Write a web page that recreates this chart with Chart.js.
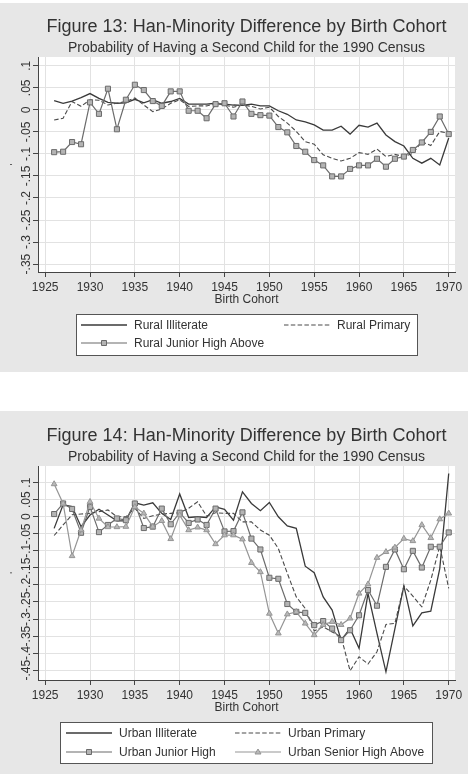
<!DOCTYPE html>
<html>
<head>
<meta charset="utf-8">
<script src="https://cdn.jsdelivr.net/npm/chart.js@4.4.1/dist/chart.umd.min.js"></script>
<style>
  body { margin: 0; background: #fff; }
  canvas { position: absolute; left: 0; }
  #fig13 { top: 3px; }
  #fig14 { top: 411px; }
</style>
</head>
<body>
<canvas id="fig13" width="468" height="369"></canvas>
<canvas id="fig14" width="468" height="363"></canvas>
<script>
// Birth cohorts (x axis)
const years = [1926, 1927, 1928, 1929, 1930, 1931, 1932, 1933, 1934, 1935,
               1936, 1937, 1938, 1939, 1940, 1941, 1942, 1943, 1944, 1945,
               1946, 1947, 1948, 1949, 1950, 1951, 1952, 1953, 1954, 1955,
               1956, 1957, 1958, 1959, 1960, 1961, 1962, 1963, 1964, 1965,
               1966, 1967, 1968, 1969, 1970];

const xTickValues = [1925, 1930, 1935, 1940, 1945, 1950, 1955, 1960, 1965, 1970];
const xTickLabels = ['1925', '1930', '1935', '1940', '1945', '1950', '1955', '1960', '1965', '1970'];

// Figure 13 - rural
const ruralIlliterate = [0.021, 0.015, 0.020, 0.028, 0.037, 0.026, 0.017, 0.015, 0.016, 0.024,
                         0.016, 0.023, 0.015, 0.019, 0.026, 0.013, 0.013, 0.013, 0.015, 0.013,
                         0.011, 0.010, 0.013, 0.009, 0.009, -0.002, -0.010, -0.023, -0.027, -0.034,
                         -0.046, -0.046, -0.037, -0.055, -0.035, -0.039, -0.030, -0.057, -0.072, -0.082,
                         -0.110, -0.121, -0.110, -0.125, -0.064];
const ruralPrimary = [-0.023, -0.019, 0.019, 0.008, 0.023, 0.022, 0.011, 0.015, 0.019, 0.027,
                      0.011, -0.004, 0.002, 0.015, 0.023, 0.008, 0.009, 0.009, 0.015, 0.011,
                      0.006, 0.011, 0.008, 0.002, 0.006, -0.015, -0.030, -0.049, -0.072, -0.078,
                      -0.102, -0.110, -0.116, -0.110, -0.097, -0.101, -0.089, -0.106, -0.101, -0.106,
                      -0.099, -0.072, -0.081, -0.049, -0.053];
const ruralJuniorHigh = [-0.096, -0.095, -0.073, -0.078, 0.017, -0.009, 0.048, -0.044, 0.023, 0.057,
                         0.045, 0.020, 0.009, 0.042, 0.042, -0.002, -0.002, -0.019, 0.013, 0.015,
                         -0.015, 0.019, -0.009, -0.012, -0.013, -0.039, -0.051, -0.082, -0.095, -0.114,
                         -0.126, -0.151, -0.151, -0.134, -0.126, -0.126, -0.111, -0.129, -0.111, -0.106,
                         -0.091, -0.074, -0.050, -0.015, -0.055];

const y13TickValues = [0.1, 0.05, 0, -0.05, -0.1, -0.15, -0.2, -0.25, -0.3, -0.35];
const y13TickLabels = ['.1', '.05', '0', '-.05', '-.1', '-.15', '-.2', '-.25', '-.3', '-.35'];

// Figure 14 - urban
const urbanIlliterate = [-0.034, 0.035, 0.030, -0.029, 0.005, 0.022, 0.005, -0.012, -0.012, 0.041,
                         0.034, 0.041, 0.010, -0.008, 0.067, -0.002, 0.000, -0.002, 0.029, 0.022,
                         -0.010, 0.073, 0.039, 0.018, 0.042, 0.000, -0.027, -0.034, -0.145, -0.164,
                         -0.235, -0.274, -0.362, -0.328, -0.386, -0.225, -0.342, -0.455, -0.328, -0.203,
                         -0.320, -0.282, -0.277, -0.152, 0.127];
const urbanPrimary = [-0.055, -0.024, 0.006, 0.008, 0.010, 0.015, 0.020, 0.000, 0.000, 0.025,
                      -0.005, 0.003, 0.008, 0.010, 0.012, 0.025, 0.044, 0.002, 0.012, 0.010,
                      0.010, -0.015, -0.015, -0.039, -0.054, -0.093, -0.166, -0.235, -0.269, -0.335,
                      -0.323, -0.338, -0.352, -0.452, -0.411, -0.432, -0.396, -0.316, -0.313, -0.203,
                      -0.233, -0.264, -0.186, -0.086, -0.210];
const urbanJuniorHigh = [0.008, 0.039, 0.023, -0.047, 0.029, -0.045, -0.024, -0.005, -0.010, 0.039,
                         -0.033, -0.029, 0.024, -0.022, 0.012, -0.018, -0.008, -0.024, 0.024, -0.043,
                         -0.042, 0.013, -0.064, -0.096, -0.179, -0.182, -0.256, -0.279, -0.282, -0.318,
                         -0.306, -0.328, -0.362, -0.333, -0.289, -0.215, -0.261, -0.147, -0.096, -0.154,
                         -0.100, -0.149, -0.088, -0.088, -0.046];
const urbanSeniorHigh = [0.096, 0.039, -0.115, -0.039, 0.044, -0.005, -0.030, -0.030, -0.029, 0.029,
                         0.010, -0.029, -0.012, -0.065, 0.005, -0.039, -0.031, -0.039, -0.080, -0.054,
                         -0.054, -0.066, -0.135, -0.162, -0.284, -0.342, -0.286, -0.279, -0.313, -0.347,
                         -0.317, -0.308, -0.317, -0.298, -0.225, -0.198, -0.120, -0.103, -0.090, -0.064,
                         -0.071, -0.024, -0.062, -0.007, 0.010];

const y14TickValues = [0.1, 0.05, 0, -0.05, -0.1, -0.15, -0.2, -0.25, -0.3, -0.35, -0.4, -0.45];
const y14TickLabels = ['.1', '.05', '0', '-.05', '-.1', '-.15', '-.2', '-.25', '-.3', '-.35', '-.4', '-.45'];

const FONT = '"Liberation Sans", Arial, sans-serif';
const TEXT = '#333333';

// Series styles (Stata mono look)
const STYLE = {
    illiterate: { borderColor: '#3a3a3a', borderWidth: 1.3, pointRadius: 0 },
    primary:    { borderColor: '#4a4a4a', borderWidth: 1.1, borderDash: [4.5, 2.3], pointRadius: 0 },
    junior:     { borderColor: '#6b6b6b', borderWidth: 1.2, pointStyle: 'rect', pointRadius: 3.6,
                  pointBackgroundColor: '#b4b4b4', pointBorderColor: '#6b6b6b', pointBorderWidth: 1 },
    senior:     { borderColor: '#959595', borderWidth: 1.2, pointStyle: 'triangle', pointRadius: 3.3,
                  pointBackgroundColor: '#b8b8b8', pointBorderColor: '#959595', pointBorderWidth: 1 }
};

function toPoints(values)
{
    return years.map((yr, i) => ({ x: yr, y: values[i] }));
}

/**
 * Gray panel, white plot region, titles and Stata-style legend box
 */
const stataPanel = {
    id: 'stataPanel',
    beforeDraw(chart) {
        const { ctx, chartArea: a } = chart;
        ctx.save();
        ctx.fillStyle = '#e7e7e7';
        ctx.fillRect(0, 0, chart.width, chart.height);
        ctx.fillStyle = '#ffffff';
        ctx.fillRect(a.left, a.top, a.right - a.left, a.bottom - a.top);
        ctx.restore();
    },
    afterDraw(chart, args, opts) {
        const { ctx, chartArea: a } = chart;
        const cx = (a.left + a.right) / 2;
        ctx.save();
        ctx.fillStyle = TEXT;
        ctx.textAlign = 'center';
        ctx.textBaseline = 'middle';

        // Titles
        ctx.font = '18px ' + FONT;
        ctx.fillText(opts.title, cx, opts.titleY);
        ctx.font = '14px ' + FONT;
        ctx.fillText(opts.subtitle, cx, opts.subtitleY);

        // Tiny y axis title mark
        ctx.save();
        ctx.translate(14, (a.top + a.bottom) / 2);
        ctx.rotate(-Math.PI / 2);
        ctx.font = '9px ' + FONT;
        ctx.fillText("'", 0, 0);
        ctx.restore();

        // Legend box
        const lg = opts.legend;
        ctx.fillStyle = '#ffffff';
        ctx.fillRect(lg.x, lg.y, lg.w, lg.h);
        ctx.strokeStyle = '#555555';
        ctx.lineWidth = 1;
        ctx.strokeRect(lg.x + 0.5, lg.y + 0.5, lg.w, lg.h);

        chart.data.datasets.forEach((ds, i) => {
            const x0 = lg.cols[i % 2];
            const y0 = lg.rows[Math.floor(i / 2)];
            ctx.save();
            ctx.strokeStyle = ds.borderColor;
            ctx.lineWidth = ds.borderWidth;
            ctx.setLineDash(ds.borderDash || []);
            ctx.beginPath();
            ctx.moveTo(x0, y0);
            ctx.lineTo(x0 + lg.lineLen, y0);
            ctx.stroke();
            ctx.setLineDash([]);
            if (ds.pointRadius > 0) {
                const mx = x0 + lg.lineLen / 2;
                ctx.fillStyle = ds.pointBackgroundColor;
                ctx.strokeStyle = ds.pointBorderColor;
                ctx.lineWidth = 1;
                ctx.beginPath();
                if (ds.pointStyle === 'rect') {
                    ctx.rect(mx - 2.5, y0 - 2.5, 5, 5);
                } else {
                    ctx.moveTo(mx, y0 - 3);
                    ctx.lineTo(mx + 3, y0 + 2);
                    ctx.lineTo(mx - 3, y0 + 2);
                    ctx.closePath();
                }
                ctx.fill();
                ctx.stroke();
            }
            ctx.restore();

            ctx.fillStyle = TEXT;
            ctx.textAlign = 'left';
            ctx.font = '12px ' + FONT;
            ctx.fillText(ds.label, x0 + lg.lineLen + 7, y0 + 0.5);
        });
        ctx.restore();
    }
};

function makeChart(id, datasets, yMin, yMax, yTickValues, yTickLabels, panel, padBottom)
{
    const ctx = document.getElementById(id).getContext('2d');
    return new Chart(ctx, {
        type: 'line',
        data: { datasets: datasets },
        plugins: [stataPanel],
        options: {
            responsive: false,
            animation: false,
            layout: { padding: { top: panel.top, right: 13, bottom: padBottom, left: 0 } },
            elements: { line: { tension: 0 } },
            plugins: {
                legend: { display: false },
                tooltip: { enabled: false },
                stataPanel: panel
            },
            scales: {
                x: {
                    type: 'linear',
                    min: 1924.2,
                    max: 1970.7,
                    afterBuildTicks: (scale) => { scale.ticks = xTickValues.map(v => ({ value: v })); },
                    afterFit: (scale) => { scale.height = 35; },
                    ticks: {
                        autoSkip: false,
                        maxRotation: 0,
                        padding: 3,
                        color: TEXT,
                        font: { size: 12, family: FONT },
                        callback: (value, index) => xTickLabels[index]
                    },
                    grid: { color: '#e2e2e2', lineWidth: 1, tickLength: 5, tickColor: '#444444' },
                    border: { color: '#444444', width: 1 },
                    title: {
                        display: true,
                        text: 'Birth Cohort',
                        color: TEXT,
                        font: { size: 12, family: FONT },
                        padding: 0
                    }
                },
                y: {
                    type: 'linear',
                    min: yMin,
                    max: yMax,
                    afterBuildTicks: (scale) => { scale.ticks = yTickValues.map(v => ({ value: v })); },
                    afterFit: (scale) => { scale.width = 38; },
                    ticks: {
                        autoSkip: false,
                        minRotation: 90,
                        maxRotation: 90,
                        crossAlign: 'center',
                        padding: -4,
                        color: TEXT,
                        font: { size: 12, family: FONT },
                        callback: (value, index) => yTickLabels[index]
                    },
                    grid: { color: '#e2e2e2', lineWidth: 1, tickLength: 5, tickColor: '#444444' },
                    border: { color: '#444444', width: 1 }
                }
            }
        }
    });
}

// Figure 13
makeChart('fig13', [
    Object.assign({ label: 'Rural Illiterate', data: toPoints(ruralIlliterate), order: 3 }, STYLE.illiterate),
    Object.assign({ label: 'Rural Primary', data: toPoints(ruralPrimary), order: 2 }, STYLE.primary),
    Object.assign({ label: 'Rural Junior High Above', data: toPoints(ruralJuniorHigh), order: 1 }, STYLE.junior)
], -0.368, 0.12, y13TickValues, y13TickLabels, {
    top: 54,
    title: 'Figure 13: Han-Minority Difference by Birth Cohort',
    subtitle: 'Probability of Having a Second Child for the 1990 Census',
    titleY: 24,
    subtitleY: 45,
    legend: { x: 76, y: 311, w: 341, h: 41, cols: [81, 284], rows: [322, 340], lineLen: 46 }
}, 65);

// Figure 14
makeChart('fig14', [
    Object.assign({ label: 'Urban Illiterate', data: toPoints(urbanIlliterate), order: 4 }, STYLE.illiterate),
    Object.assign({ label: 'Urban Primary', data: toPoints(urbanPrimary), order: 3 }, STYLE.primary),
    Object.assign({ label: 'Urban Junior High', data: toPoints(urbanJuniorHigh), order: 2 }, STYLE.junior),
    Object.assign({ label: 'Urban Senior High Above', data: toPoints(urbanSeniorHigh), order: 1 }, STYLE.senior)
], -0.479, 0.149, y14TickValues, y14TickLabels, {
    top: 55,
    title: 'Figure 14: Han-Minority Difference by Birth Cohort',
    subtitle: 'Probability of Having a Second Child for the 1990 Census',
    titleY: 25,
    subtitleY: 46,
    legend: { x: 60, y: 311, w: 372, h: 41, cols: [66, 235], rows: [322, 341], lineLen: 46 }
}, 59);
</script>
</body>
</html>
